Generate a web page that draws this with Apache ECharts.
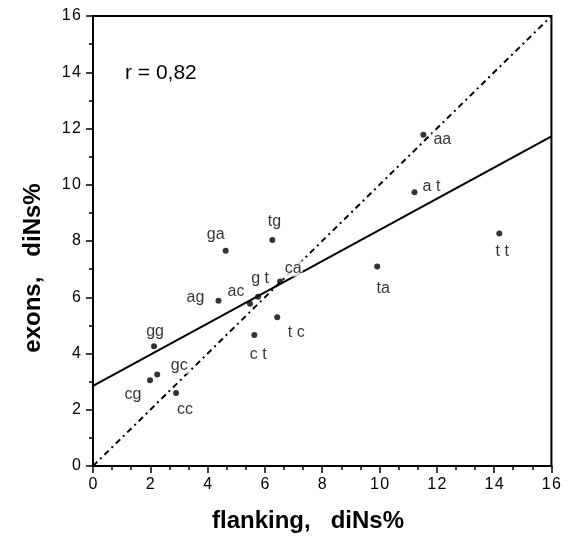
<!DOCTYPE html>
<html>
<head>
<meta charset="utf-8">
<script src="https://cdn.jsdelivr.net/npm/echarts@6/dist/echarts.min.js"></script>
<style>html,body{margin:0;padding:0;background:#fff}#c{width:564px;height:541px}</style>
</head>
<body>
<div id="c"></div>
<script>
// ---- data ----
const names    = ['aa','at','tt','ta','tg','ga','ca','gt','ac','ag','tc','ct','gg','gc','cg','cc'];
const flanking = [11.53,11.22,14.18,9.92,6.26,4.63,6.53,5.76,5.48,4.38,6.43,5.63,2.13,2.24,1.99,2.90];
const exons    = [11.78,9.73,8.27,7.09,8.04,7.65,6.56,6.02,5.77,5.88,5.29,4.66,4.26,3.25,3.05,2.60];
const fitX = [0, 16];
const fitY = [2.85, 11.72];
const diagX = [0, 16];
const diagY = [0, 16];
const xTicks = [0,2,4,6,8,10,12,14,16];
const yTicks = [0,2,4,6,8,10,12,14,16];
const xTitle = 'flanking,   diNs%';
const yTitle = 'exons,   diNs%';
const rText = 'r = 0,82';

// ---- label layout (pixel offsets from each dot) ----
const labelOffsets = {
  aa:[19,5], at:[17,-6], tt:[3,18], ta:[6,22], tg:[2,-18], ga:[-10,-16],
  ca:[13,-13], gt:[2,-18], ac:[-14,-12], ag:[-23,-3], tc:[19,15], ct:[4,20],
  gg:[1,-15], gc:[22,-9], cg:[-17,14], cc:[9,17]
};
const labelText = {tt:'t t', tc:'t c', ct:'c t', gt:'g t', at:'a t'};

const FONT = 'Liberation Sans, Arial, Helvetica, sans-serif';
const chart = echarts.init(document.getElementById('c'), null, {renderer:'canvas'});

const pts = names.map((n,i)=>({
  name:n, value:[flanking[i], exons[i]],
  label:{offset: labelOffsets[n], formatter: labelText[n] || n}
}));

const spaced = v => String(v).split('').join('\u200A');

const axisCommon = {
  type:'value', min:0, max:16, interval:2,
  axisLine:{show:true, onZero:false, lineStyle:{color:'#000', width:2}},
  axisTick:{show:true, inside:false, length:7, lineStyle:{color:'#000', width:1.5}},
  minorTick:{show:true, length:4, lineStyle:{color:'#000', width:1.5}},
  splitLine:{show:false},
  axisLabel:{color:'#000', fontSize:16, fontFamily:FONT, formatter: spaced}
};

chart.setOption({
  animation:false,
  backgroundColor:'#fff',
  grid:{left:93, right:12, top:16, bottom:75, show:true, borderColor:'#000', borderWidth:2},
  xAxis:Object.assign({}, axisCommon, {
    minorTick:Object.assign({}, axisCommon.minorTick, {splitNumber:3}),
    axisLabel:Object.assign({}, axisCommon.axisLabel, {margin:11})
  }),
  yAxis:Object.assign({}, axisCommon, {
    minorTick:Object.assign({}, axisCommon.minorTick, {splitNumber:2}),
    axisLabel:Object.assign({}, axisCommon.axisLabel, {margin:12})
  }),
  graphic:[
    {type:'text', left:125, top:63,
      style:{text:rText, fill:'#000', font:'21px ' + FONT}},
    {type:'text', x:308, y:521,
      style:{text:xTitle, fill:'#000', font:'bold 24px ' + FONT, textAlign:'center', textVerticalAlign:'middle'}},
    {type:'text', x:33, y:268, rotation:Math.PI/2,
      style:{text:yTitle, fill:'#000', font:'bold 24px ' + FONT, textAlign:'center', textVerticalAlign:'middle'}}
  ],
  series:[
    {
      type:'line', z:1, symbol:'none', silent:true,
      data: fitX.map((x,i)=>[x, fitY[i]]),
      lineStyle:{color:'#000', width:2}
    },
    {
      type:'line', z:1, symbol:'none', silent:true,
      data: diagX.map((x,i)=>[x, diagY[i]]),
      lineStyle:{color:'#000', width:2, type:[6,4,2,4]}
    },
    {
      type:'scatter', z:5, symbol:'circle', symbolSize:6,
      itemStyle:{color:'#000'},
      data: pts,
      label:{show:true, position:'inside', align:'center', verticalAlign:'middle',
        color:'#000', fontSize:16, fontFamily:FONT, backgroundColor:'#fff', padding:[0,1]}
    }
  ]
});
</script>
</body>
</html>
